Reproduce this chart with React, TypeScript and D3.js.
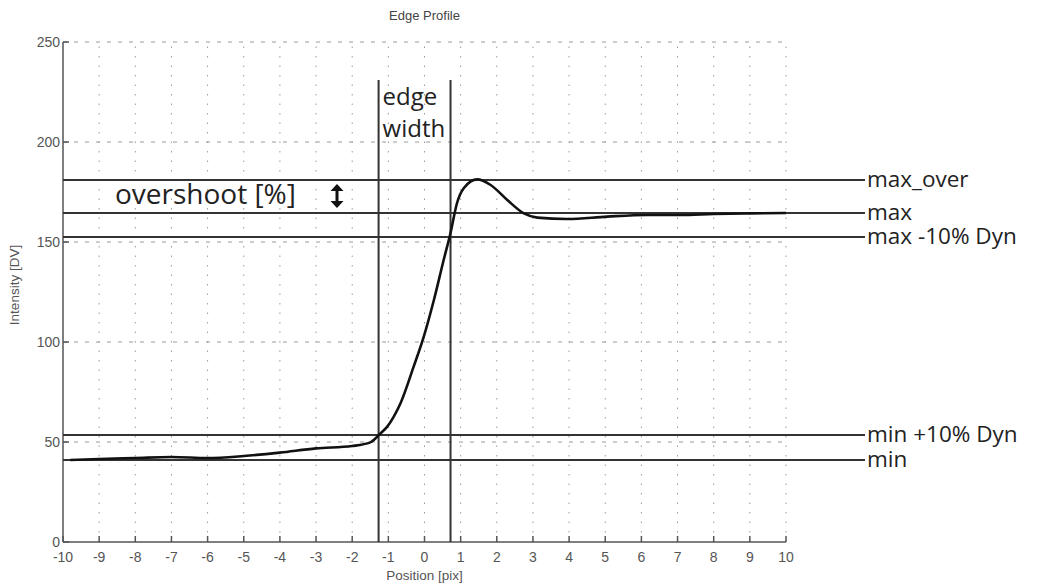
import React, { useEffect, useRef } from 'react';
import * as d3 from 'd3';

// measured edge profile (position in pixels, intensity in DV)
const positions = [-9.8, -9, -8, -7, -6, -5, -4, -3, -2, -1.5, -1.22, -1.03, -0.85, -0.66, -0.3, -0.02, 0.26, 0.53, 0.72, 0.9, 1.09, 1.46, 1.83, 2.29, 2.75, 3.12, 3.95, 5.05, 6.16, 7.08, 8, 9, 10];
const intensities = [41, 41.5, 42, 42.5, 42, 43, 44.7, 46.8, 48, 49.8, 54.3, 57.7, 62.7, 69.5, 87.7, 102.7, 121, 141, 154.5, 169.5, 177, 181.3, 178.5, 171, 164.3, 162.2, 161.5, 162.7, 163.5, 163.5, 164, 164.3, 164.5];

// reference levels
const levelNames = ['max_over', 'max', 'max -10% Dyn', 'min +10% Dyn', 'min'];
const levelValues = [181, 164.5, 152.5, 53.5, 41];

// edge width markers
const edgePositions = [-1.27, 0.72];
const edgeTop = 231;

const xTicks = d3.range(-10, 11, 1);
const yTicks = [0, 50, 100, 150, 200, 250];

const App: React.FC = () => {
  const svgRef = useRef<SVGSVGElement>(null);

  useEffect(() => {
    if (!svgRef.current) return;
    d3.select(svgRef.current).selectAll('*').remove();

    const width = 1038;
    const height = 585;
    const left = 63, right = 786, top = 42, bottom = 542;
    const lineEnd = 865;

    const svg = d3.select(svgRef.current)
      .attr('width', width)
      .attr('height', height);

    svg.append('rect').attr('width', width).attr('height', height).attr('fill', '#fff');

    const x = d3.scaleLinear().domain([-10, 10]).range([left, right]);
    const y = d3.scaleLinear().domain([0, 250]).range([bottom, top]);

    const tickFont = '"Liberation Sans", Arial, sans-serif';
    const annFont = '"Open Sans", "Noto Sans", sans-serif';

    // grid
    svg.append('g')
      .selectAll('line')
      .data(xTicks.slice(1))
      .join('line')
      .attr('x1', d => x(d)).attr('x2', d => x(d))
      .attr('y1', bottom).attr('y2', top)
      .attr('stroke', '#9a9a9a')
      .attr('stroke-width', 1)
      .attr('stroke-dasharray', '1.5,8');

    svg.append('g')
      .selectAll('line')
      .data(yTicks.slice(1))
      .join('line')
      .attr('x1', left).attr('x2', right)
      .attr('y1', d => y(d)).attr('y2', d => y(d))
      .attr('stroke', '#9a9a9a')
      .attr('stroke-width', 1)
      .attr('stroke-dasharray', '4,7');

    // axes
    const axisColor = '#555';
    svg.append('line')
      .attr('x1', left).attr('x2', right)
      .attr('y1', bottom).attr('y2', bottom)
      .attr('stroke', axisColor).attr('stroke-width', 1.5);
    svg.append('line')
      .attr('x1', left).attr('x2', left)
      .attr('y1', bottom).attr('y2', top)
      .attr('stroke', axisColor).attr('stroke-width', 1.5);

    svg.append('g')
      .selectAll('line')
      .data(xTicks)
      .join('line')
      .attr('x1', d => x(d)).attr('x2', d => x(d))
      .attr('y1', bottom).attr('y2', bottom - 6)
      .attr('stroke', axisColor).attr('stroke-width', 1.5);

    svg.append('g')
      .selectAll('line')
      .data(yTicks)
      .join('line')
      .attr('x1', left).attr('x2', left + 6)
      .attr('y1', d => y(d)).attr('y2', d => y(d))
      .attr('stroke', axisColor).attr('stroke-width', 1.5);

    svg.append('g')
      .selectAll('text')
      .data(xTicks)
      .join('text')
      .attr('x', d => x(d))
      .attr('y', bottom + 20)
      .attr('text-anchor', 'middle')
      .style('font-family', tickFont)
      .style('font-size', '14px')
      .style('fill', '#555')
      .text(d => String(d));

    svg.append('g')
      .selectAll('text')
      .data(yTicks)
      .join('text')
      .attr('x', left - 3)
      .attr('y', d => y(d) + 5)
      .attr('text-anchor', 'end')
      .style('font-family', tickFont)
      .style('font-size', '14px')
      .style('fill', '#555')
      .text(d => String(d));

    // titles
    svg.append('text')
      .attr('x', x(0))
      .attr('y', 20)
      .attr('text-anchor', 'middle')
      .style('font-family', tickFont)
      .style('font-size', '13px')
      .style('fill', '#444')
      .text('Edge Profile');

    svg.append('text')
      .attr('x', x(0))
      .attr('y', 580)
      .attr('text-anchor', 'middle')
      .style('font-family', tickFont)
      .style('font-size', '13.5px')
      .style('fill', '#555')
      .text('Position [pix]');

    svg.append('text')
      .attr('transform', `translate(19,285) rotate(-90)`)
      .attr('text-anchor', 'middle')
      .style('font-family', tickFont)
      .style('font-size', '13.5px')
      .style('fill', '#555')
      .text('Intensity [DV]');

    // reference levels
    const levels = levelNames.map((name, i) => ({ name, value: levelValues[i] }));
    svg.append('g')
      .selectAll('line')
      .data(levels)
      .join('line')
      .attr('x1', left).attr('x2', lineEnd)
      .attr('y1', d => y(d.value)).attr('y2', d => y(d.value))
      .attr('stroke', '#333').attr('stroke-width', 2);

    svg.append('g')
      .selectAll('text')
      .data(levels)
      .join('text')
      .attr('x', lineEnd + 2)
      .attr('y', d => y(d.value) + 7)
      .style('font-family', annFont)
      .style('font-size', '22.5px')
      .style('fill', '#222')
      .text(d => d.name);

    // edge width markers
    svg.append('g')
      .selectAll('line')
      .data(edgePositions)
      .join('line')
      .attr('x1', d => x(d)).attr('x2', d => x(d))
      .attr('y1', y(0)).attr('y2', y(edgeTop))
      .attr('stroke', '#333').attr('stroke-width', 2);

    const edgeText = svg.append('text')
      .style('font-family', annFont)
      .style('font-size', '24px')
      .style('fill', '#222');
    edgeText.append('tspan').attr('x', x(edgePositions[0]) + 4).attr('y', 105).text('edge');
    edgeText.append('tspan').attr('x', x(edgePositions[0]) + 4).attr('y', 137).text('width');

    // overshoot annotation
    svg.append('text')
      .attr('x', 115)
      .attr('y', 204)
      .style('font-family', annFont)
      .style('font-size', '28px')
      .style('fill', '#222')
      .text('overshoot [%]');

    const ax = 337;
    const ay1 = 184;
    const ay2 = 208;
    svg.append('line')
      .attr('x1', ax).attr('x2', ax)
      .attr('y1', ay1 + 5).attr('y2', ay2 - 5)
      .attr('stroke', '#111').attr('stroke-width', 3);
    svg.append('path')
      .attr('d', `M${ax - 6.5},${ay1 + 7} L${ax},${ay1} L${ax + 6.5},${ay1 + 7} Z`)
      .attr('fill', '#111');
    svg.append('path')
      .attr('d', `M${ax - 6.5},${ay2 - 7} L${ax},${ay2} L${ax + 6.5},${ay2 - 7} Z`)
      .attr('fill', '#111');

    // profile curve
    const pts = positions.map((p, i) => [p, intensities[i]] as [number, number]);
    const line = d3.line<[number, number]>()
      .x(d => x(d[0]))
      .y(d => y(d[1]))
      .curve(d3.curveMonotoneX);

    svg.append('path')
      .attr('d', line(pts) ?? '')
      .attr('fill', 'none')
      .attr('stroke', '#111')
      .attr('stroke-width', 2.6);
  }, []);

  return (
    <svg ref={svgRef} style={{ position: 'absolute', left: 0, top: 0, display: 'block' }}></svg>
  );
};

export default App;
